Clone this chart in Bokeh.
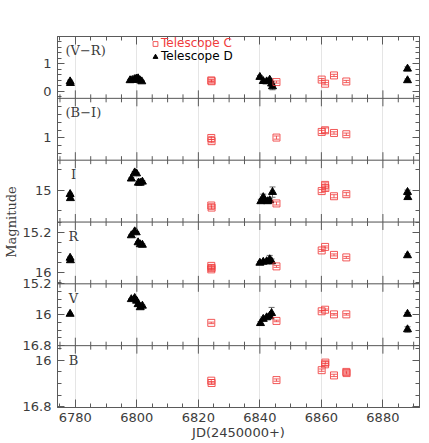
from bokeh.plotting import figure
from bokeh.models import (Range1d, LinearAxis, FixedTicker, Whisker, ColumnDataSource,
                          Legend, LegendItem, Label, TeeHead, CustomJSTickFormatter, Span)
from bokeh.embed import file_html
from bokeh.resources import INLINE

AX = "#5a5a5a"
TXT = "#3c3c3c"
RED = "#f03c3c"
EBK = "#6a6a6a"

# ---------------- x axis ----------------
x_major = [6780, 6800, 6820, 6840, 6860, 6880]
x_minor = [6775, 6785, 6790, 6795, 6805, 6810, 6815, 6825, 6830, 6835,
           6845, 6850, 6855, 6865, 6870, 6875, 6885, 6890]
x_lo, x_hi = 6774.2, 6891.9

# ---------------- (V-R) ----------------
vr_c_jd = [6824.2, 6824.3, 6845.4, 6860.1, 6861.2, 6864.1, 6868.1]
vr_c = [0.40, 0.37, 0.34, 0.43, 0.28, 0.58, 0.36]
vr_c_err = [0.04, 0.04, 0.04, 0.04, 0.04, 0.04, 0.04]
vr_d_jd = [6778.3, 6778.4, 6797.8, 6798.5, 6799.2, 6799.8, 6800.4, 6801.0, 6801.6,
           6840.0, 6841.1, 6842.2, 6843.2, 6843.8, 6844.1, 6888.0, 6888.0]
vr_d = [0.36, 0.30, 0.40, 0.41, 0.44, 0.46, 0.47, 0.40, 0.36,
        0.52, 0.37, 0.36, 0.42, 0.28, 0.18, 0.82, 0.40]
vr_d_err = [0.05, 0.05, 0.04, 0.04, 0.04, 0.04, 0.04, 0.04, 0.04,
            0.06, 0.05, 0.06, 0.05, 0.08, 0.12, 0.07, 0.05]
vr_major = [0, 1]
vr_minor = [-0.2, 0.2, 0.4, 0.6, 0.8, 1.2, 1.4, 1.6, 1.8]

# ---------------- (B-I) ----------------
bi_c_jd = [6824.2, 6824.3, 6845.4, 6860.1, 6861.2, 6864.1, 6868.1]
bi_c = [1.00, 0.96, 1.005, 1.076, 1.097, 1.063, 1.047]
bi_c_err = [0.02, 0.02, 0.02, 0.02, 0.03, 0.015, 0.015]
bi_major = [1]
bi_minor = [0.8, 0.9, 1.1, 1.2, 1.3, 1.4]

# ---------------- I ----------------
i_c_jd = [6824.2, 6824.3, 6845.4, 6860.1, 6861.2, 6861.3, 6864.1, 6868.1]
i_c = [15.15, 15.17, 15.13, 15.01, 14.95, 14.98, 15.06, 15.04]
i_c_err = [0.015, 0.015, 0.015, 0.015, 0.02, 0.02, 0.015, 0.015]
i_d_jd = [6778.3, 6778.4, 6798.2, 6799.3, 6799.9, 6800.5, 6801.1, 6801.8,
          6840.3, 6841.1, 6841.6, 6842.5, 6843.2, 6844.1, 6888.0, 6888.1]
i_d = [15.04, 15.08, 14.89, 14.83, 14.84, 14.93, 14.93, 14.92,
       15.11, 15.07, 15.10, 15.11, 15.10, 15.02, 15.02, 15.07]
i_d_err = [0.01, 0.01, 0.01, 0.01, 0.01, 0.01, 0.01, 0.01,
           0.02, 0.03, 0.02, 0.02, 0.02, 0.05, 0.02, 0.02]
i_major = [15]
i_minor = [14.8, 15.2]

# ---------------- R ----------------
r_c_jd = [6824.2, 6824.3, 6824.2, 6845.4, 6860.1, 6861.2, 6864.1, 6868.1]
r_c = [15.86, 15.90, 15.93, 15.87, 15.55, 15.48, 15.64, 15.69]
r_c_err = [0.02, 0.02, 0.02, 0.02, 0.02, 0.02, 0.02, 0.02]
r_d_jd = [6778.3, 6778.4, 6798.2, 6799.3, 6799.8, 6800.4, 6801.1, 6801.8,
          6840.0, 6841.1, 6842.2, 6843.2, 6843.8, 6888.0]
r_d = [15.70, 15.75, 15.25, 15.17, 15.19, 15.39, 15.43, 15.44,
       15.80, 15.78, 15.77, 15.73, 15.77, 15.65]
r_d_err = [0.02, 0.02, 0.02, 0.02, 0.02, 0.02, 0.02, 0.02,
           0.03, 0.04, 0.03, 0.08, 0.05, 0.03]
r_major = [15.2, 16.0]
r_minor = [15.0, 15.4, 15.6, 15.8, 16.2]

# ---------------- V ----------------
v_c_jd = [6824.2, 6845.4, 6860.1, 6861.2, 6864.1, 6868.1]
v_c = [16.21, 16.16, 15.91, 15.87, 15.99, 15.99]
v_c_err = [0.02, 0.02, 0.02, 0.02, 0.02, 0.02]
v_d_jd = [6778.3, 6798.2, 6799.3, 6799.9, 6800.4, 6801.1, 6801.8,
          6840.2, 6841.1, 6842.2, 6843.2, 6843.8, 6888.0, 6888.0]
v_d = [15.98, 15.60, 15.57, 15.64, 15.73, 15.81, 15.77,
       16.22, 16.11, 16.07, 16.03, 15.96, 15.98, 16.38]
v_d_err = [0.02, 0.02, 0.02, 0.02, 0.02, 0.02, 0.02,
           0.04, 0.05, 0.04, 0.05, 0.15, 0.04, 0.07]
v_major = [15.2, 16.0, 16.8]
v_minor = [15.4, 15.6, 15.8, 16.2, 16.4, 16.6]

# ---------------- B ----------------
b_c_jd = [6824.2, 6824.3, 6845.4, 6860.1, 6861.2, 6861.3, 6864.1, 6868.1, 6868.2]
b_c = [16.35, 16.39, 16.34, 16.17, 16.07, 16.04, 16.26, 16.20, 16.22]
b_c_err = [0.02, 0.02, 0.02, 0.02, 0.02, 0.02, 0.02, 0.02, 0.02]
b_major = [16.0, 16.8]
b_minor = [15.8, 16.2, 16.4, 16.6]

# panel setup: (key, label, bottom value, top value, major, minor, C data, D data)
panels = [
    ("vr", "(V\u2212R)", -0.25, 1.99, vr_major, vr_minor,
     (vr_c_jd, vr_c, vr_c_err), (vr_d_jd, vr_d, vr_d_err)),
    ("bi", "(B\u2212I)", 0.72, 1.50, bi_major, bi_minor,
     (bi_c_jd, bi_c, bi_c_err), None),
    ("i", "I", 15.31, 14.71, i_major, i_minor,
     (i_c_jd, i_c, i_c_err), (i_d_jd, i_d, i_d_err)),
    ("r", "R", 16.22, 14.98, r_major, r_minor,
     (r_c_jd, r_c, r_c_err), (r_d_jd, r_d, r_d_err)),
    ("v", "V", 16.80, 15.20, v_major, v_minor,
     (v_c_jd, v_c, v_c_err), (v_d_jd, v_d, v_d_err)),
    ("b", "B", 16.81, 15.75, b_major, b_minor,
     (b_c_jd, b_c, b_c_err), None),
]
NP = len(panels)

W, H = 428, 442
TOP, BOT = 36, 34
FH = H - TOP - BOT
BAND = FH / NP

p = figure(width=W, height=H, x_range=Range1d(x_lo, x_hi), y_range=Range1d(0, NP),
           output_backend="svg", toolbar_location=None,
           x_axis_location=None, y_axis_location=None,
           min_border_left=53, min_border_right=9, min_border_top=TOP, min_border_bottom=BOT)
p.outline_line_color = AX
p.background_fill_color = "white"

blank = CustomJSTickFormatter(code="return '';")

major_pos, major_lab, minor_pos = [], [], []
renderers_legend = {}

for idx, (key, lab, lo, hi, majors, minors, cdat, ddat) in enumerate(panels):
    b = NP - 1 - idx  # band index from bottom
    span = hi - lo
    p.extra_y_ranges[key] = Range1d(start=lo - b * span, end=hi + (NP - 1 - b) * span)
    for t in majors:
        major_pos.append(b + (t - lo) / span)
        major_lab.append(("%g" % t))
    for t in minors:
        minor_pos.append(b + (t - lo) / span)

    if ddat is not None:
        jd, y, e = ddat
        src = ColumnDataSource(dict(x=jd, y=y, up=[a + c for a, c in zip(y, e)],
                                    lo=[a - c for a, c in zip(y, e)]))
        p.add_layout(Whisker(source=src, base="x", upper="up", lower="lo", dimension="height",
                             line_color=EBK, line_width=1, y_range_name=key,
                             upper_head=TeeHead(size=6, line_color=EBK),
                             lower_head=TeeHead(size=6, line_color=EBK)))
        rd = p.scatter("x", "y", source=src, marker="triangle", size=8,
                       fill_color="black", line_color="black", y_range_name=key)
        if key == "vr":
            renderers_legend["D"] = rd
    if cdat is not None:
        jd, y, e = cdat
        src = ColumnDataSource(dict(x=jd, y=y, up=[a + c for a, c in zip(y, e)],
                                    lo=[a - c for a, c in zip(y, e)]))
        p.add_layout(Whisker(source=src, base="x", upper="up", lower="lo", dimension="height",
                             line_color=RED, line_alpha=0.8, line_width=1, y_range_name=key,
                             upper_head=TeeHead(size=6, line_color=RED, line_alpha=0.8),
                             lower_head=TeeHead(size=6, line_color=RED, line_alpha=0.8)))
        rc = p.scatter("x", "y", source=src, marker="square", size=7,
                       fill_color=None, line_color=RED, line_alpha=0.85, y_range_name=key)
        if key == "vr":
            renderers_legend["C"] = rc

    # panel label
    top_y = (b + 1) * BAND
    if lab.startswith("("):
        p.add_layout(Label(x=8, y=top_y - 15, x_units="screen", y_units="screen", text=lab,
                           text_font="DejaVu Serif", text_font_size="13px",
                           text_color=TXT, text_align="left", text_baseline="middle"))
    else:
        p.add_layout(Label(x=16, y=top_y - 15, x_units="screen", y_units="screen", text=lab,
                           text_font="DejaVu Serif", text_font_size="13px",
                           text_color=TXT, text_align="center", text_baseline="middle"))

# panel separators and internal x ticks
seg_x, seg_y0, seg_y1 = [], [], []
for k in range(1, NP):
    p.add_layout(Span(location=k, dimension="width", line_color=AX, line_width=1))
    for t in x_major:
        seg_x.append(t); seg_y0.append(k - 8 / BAND); seg_y1.append(k + 8 / BAND)
    for t in x_minor:
        seg_x.append(t); seg_y0.append(k - 4 / BAND); seg_y1.append(k + 4 / BAND)
p.segment(x0=seg_x, y0=seg_y0, x1=seg_x, y1=seg_y1, line_color=AX, line_width=1)


def style(ax, maj=8, mnr=4, show=True):
    ax.major_tick_in = maj
    ax.major_tick_out = 0
    ax.minor_tick_in = mnr
    ax.minor_tick_out = 0
    ax.axis_line_color = AX
    ax.major_tick_line_color = AX
    ax.minor_tick_line_color = AX
    ax.major_label_text_color = TXT
    ax.major_label_text_font = "DejaVu Sans"
    ax.major_label_text_font_size = "13px" if show else "0px"
    if not show:
        ax.major_label_standoff = 0


xt = FixedTicker(ticks=x_major, minor_ticks=x_minor)
bottom = LinearAxis(ticker=xt, axis_label="JD(2450000+)")
style(bottom)
bottom.major_label_standoff = 5
bottom.axis_label_standoff = 0
bottom.axis_label_text_font = "DejaVu Sans"
bottom.axis_label_text_font_size = "13px"
bottom.axis_label_text_font_style = "normal"
bottom.axis_label_text_color = TXT
p.add_layout(bottom, "below")

top = LinearAxis(ticker=xt, formatter=blank)
style(top, show=False)
p.add_layout(top, "above")

yt = FixedTicker(ticks=major_pos, minor_ticks=minor_pos)
yfmt = CustomJSTickFormatter(args=dict(pos=major_pos, lab=major_lab), code="""
for (let i = 0; i < pos.length; i++) { if (Math.abs(tick - pos[i]) < 1e-6) return lab[i]; }
return '';""")
left = LinearAxis(ticker=yt, formatter=yfmt, axis_label="Magnitude")
style(left, 7, 4)
left.major_label_standoff = 6
left.axis_label_standoff = 1
left.axis_label_text_font = "DejaVu Serif"
left.axis_label_text_font_size = "13px"
left.axis_label_text_font_style = "normal"
left.axis_label_text_color = TXT
p.add_layout(left, "left")

right = LinearAxis(ticker=yt, formatter=blank)
style(right, 7, 4, show=False)
p.add_layout(right, "right")

# legends (location = bottom-left corner of each legend, screen px from frame bottom-left)
for name, col, ybot in (("C", RED, FH - 15), ("D", "black", FH - 28)):
    lg = Legend(items=[LegendItem(label="Telescope " + name, renderers=[renderers_legend[name]])],
                location=(92, ybot), orientation="vertical",
                border_line_color=None, background_fill_alpha=0,
                padding=0, margin=0, spacing=0, label_standoff=0,
                glyph_width=12, glyph_height=13, label_height=13,
                label_text_font="DejaVu Sans", label_text_font_size="12px",
                label_text_color=col)
    p.add_layout(lg)

open("out.html", "w").write(file_html(p, INLINE))
